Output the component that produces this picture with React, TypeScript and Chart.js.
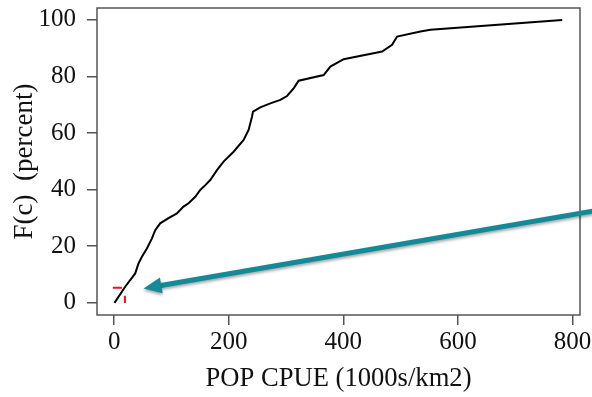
import React, { useEffect, useRef } from "react";
import { Chart, registerables } from "chart.js";

Chart.register(...registerables);

// ECDF curve: POP CPUE (1000s/km2) vs F(c) percent
const cpueX = [0.5, 19.2, 36.7, 42.4, 48.4, 57.1, 65.9, 71.6, 80.3, 94.8, 109.5, 121, 129.8, 141.5, 150.2, 159, 167.7, 179.4, 190.9, 208.4, 225.9, 234.6, 240.5, 242.3, 255, 272.5, 290, 301.7, 313.2, 322, 365.6, 377.3, 400.5, 467.6, 485, 493.8, 534.5, 552, 782];
const fcY = [0, 5.7, 10.4, 13.9, 16.3, 19.2, 22.8, 25.7, 28.1, 29.9, 31.6, 34.0, 35.2, 37.5, 39.9, 41.6, 43.4, 46.9, 49.9, 53.4, 57.6, 61.1, 65.8, 67.6, 69.1, 70.5, 71.7, 73.1, 75.8, 78.5, 80.5, 83.5, 86.1, 88.8, 91.2, 94.1, 95.9, 96.5, 100];

// red dashed marker (x, y)
const markerX = [-2.3, 18.7, 18.7];
const markerY = [5.3, 5.3, -0.1];

// annotation arrow, in data units: tail then tip
const arrowX = [849, 51.2];
const arrowY = [32.9, 5.1];

const xTicks = [0, 200, 400, 600, 800];
const yTicks = [0, 20, 40, 60, 80, 100];

const FONT = "'Liberation Serif', 'Times New Roman', serif";

export default function App() {
  const ref = useRef<HTMLCanvasElement | null>(null);

  useEffect(() => {
    if (!ref.current) return;

    const boxPlugin = {
      id: "boxPlugin",
      afterDraw(chart: any) {
        const { ctx, chartArea } = chart;
        ctx.save();
        ctx.strokeStyle = "#555";
        ctx.lineWidth = 1.5;
        ctx.strokeRect(chartArea.left, chartArea.top, chartArea.right - chartArea.left, chartArea.bottom - chartArea.top);
        ctx.restore();

        // arrow
        const xs = chart.scales.x;
        const ys = chart.scales.y;
        const x0 = xs.getPixelForValue(arrowX[0]);
        const y0 = ys.getPixelForValue(arrowY[0]);
        const x1 = xs.getPixelForValue(arrowX[1]);
        const y1 = ys.getPixelForValue(arrowY[1]);
        const ang = Math.atan2(y1 - y0, x1 - x0);
        const headLen = 18;
        const headHalf = 8;
        const bx = x1 - headLen * Math.cos(ang);
        const by = y1 - headLen * Math.sin(ang);
        ctx.save();
        ctx.shadowColor = "rgba(0,0,0,0.35)";
        ctx.shadowBlur = 3;
        ctx.shadowOffsetY = 2;
        ctx.strokeStyle = "#148a99";
        ctx.fillStyle = "#148a99";
        ctx.lineWidth = 5;
        ctx.beginPath();
        ctx.moveTo(x0, y0);
        ctx.lineTo(bx + 2 * Math.cos(ang), by + 2 * Math.sin(ang));
        ctx.stroke();
        ctx.beginPath();
        ctx.moveTo(x1, y1);
        ctx.lineTo(bx + headHalf * Math.sin(ang), by - headHalf * Math.cos(ang));
        ctx.lineTo(bx - headHalf * Math.sin(ang), by + headHalf * Math.cos(ang));
        ctx.closePath();
        ctx.fill();
        ctx.restore();
      },
    };

    const chart = new Chart(ref.current, {
      type: "line",
      data: {
        datasets: [
          {
            data: cpueX.map((x, i) => ({ x, y: fcY[i] })),
            borderColor: "#000",
            borderWidth: 2,
            pointRadius: 0,
            tension: 0,
          },
          {
            data: markerX.map((x, i) => ({ x, y: markerY[i] })),
            borderColor: "#e8141c",
            borderWidth: 2,
            borderDash: [9, 11],
            pointRadius: 0,
            tension: 0,
          },
        ],
      },
      options: {
        animation: false,
        responsive: false,
        layout: { padding: { top: 8, right: 12, left: 0, bottom: 0 } },
        plugins: { legend: { display: false }, tooltip: { enabled: false } },
        scales: {
          x: {
            type: "linear",
            min: -30,
            max: 813,
            afterBuildTicks: (s: any) => {
              s.ticks = xTicks.map((v) => ({ value: v }));
            },
            afterFit: (s: any) => {
              s.height = 82;
              s.paddingLeft = 0;
              s.paddingRight = 0;
            },
            grid: { drawOnChartArea: false, drawTicks: true, tickLength: 10, color: "#555", lineWidth: 1.5 },
            border: { display: false },
            ticks: { font: { family: FONT, size: 25 }, color: "#111", padding: 2, maxRotation: 0 },
            title: { display: true, text: "POP CPUE (1000s/km2)", font: { family: FONT, size: 26.6 }, color: "#111", padding: { top: 0, bottom: 2 } },
          },
          y: {
            type: "linear",
            min: -4.3,
            max: 104.2,
            afterBuildTicks: (s: any) => {
              s.ticks = yTicks.map((v) => ({ value: v }));
            },
            afterFit: (s: any) => {
              s.width = 97;
              s.paddingTop = 0;
              s.paddingBottom = 0;
            },
            grid: { drawOnChartArea: false, drawTicks: true, tickLength: 10, color: "#555", lineWidth: 1.5 },
            border: { display: false },
            ticks: { font: { family: FONT, size: 25 }, color: "#111", padding: 11 },
            title: { display: true, text: "F(c)  (percent)", font: { family: FONT, size: 27 }, color: "#111", padding: { top: 9, bottom: 0 } },
          },
        },
      },
      plugins: [boxPlugin],
    });
    return () => chart.destroy();
  }, []);

  return (
    <div style={{ position: "absolute", left: 0, top: 0, width: 592, height: 397, background: "#fff" }}>
      <canvas ref={ref} width={592} height={397} style={{ width: 592, height: 397, display: "block" }} />
    </div>
  );
}
